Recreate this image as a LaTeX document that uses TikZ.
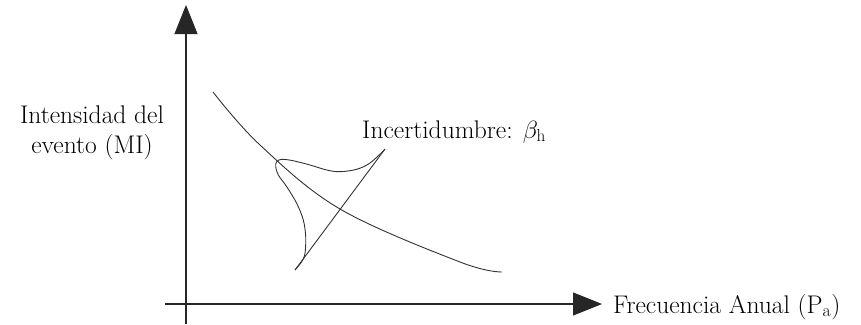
\documentclass[tikz,border=0pt]{standalone}
\usetikzlibrary{arrows.meta}
\begin{document}
\begin{tikzpicture}[x=1pt,y=-1pt,
  axis/.style={line width=1.1pt, draw=black!85},
  curve/.style={line width=0.9pt, draw=black!80},
  lbl/.style={font=\fontsize{25.5}{30}\selectfont, inner sep=0pt, text=black},
  tip/.style={-{Triangle[length=29pt,width=23pt]}}]
\useasboundingbox (0,0) rectangle (861,324);
% axes
\coordinate (ybot) at (186,324);
\coordinate (ytop) at (186,5);
\coordinate (xleft) at (165,304);
\coordinate (xright) at (602,304);
\draw[axis,tip] (ybot) -- (ytop);
\draw[axis,tip] (xleft) -- (xright);
% hazard curve
\draw[curve] plot[smooth, tension=0.6] coordinates {(213,92) (260,145) (340,209) (460,262) (502,272)};
% straight line
\coordinate (la) at (295,270);
\coordinate (lb) at (385,149);
\draw[curve] (la) -- (lb);
% uncertainty distribution
\draw[curve] plot[smooth, tension=0.55] coordinates {(385,149.3) (370,163) (356.7,169.3) (340,171.7) (326.7,170) (310,165) (293,160.7) (281.7,159.3) (276.7,161.7) (275.7,166.7) (278.3,175) (286.7,186.7) (296.7,203.3) (303.3,220) (305.7,236.7) (305,253.3) (301.7,261.7) (295,270)};
% labels
\node[lbl, anchor=base west] (unc) at (362,138) {Incertidumbre: $\beta_{\mathrm{h}}$};
\node[lbl, anchor=base west] (freq) at (613,313) {Frecuencia Anual (P\textsubscript{a})};
\node[lbl, anchor=base, align=center] (int) at (92,153) {Intensidad del\\evento (MI)};
\end{tikzpicture}
\end{document}
